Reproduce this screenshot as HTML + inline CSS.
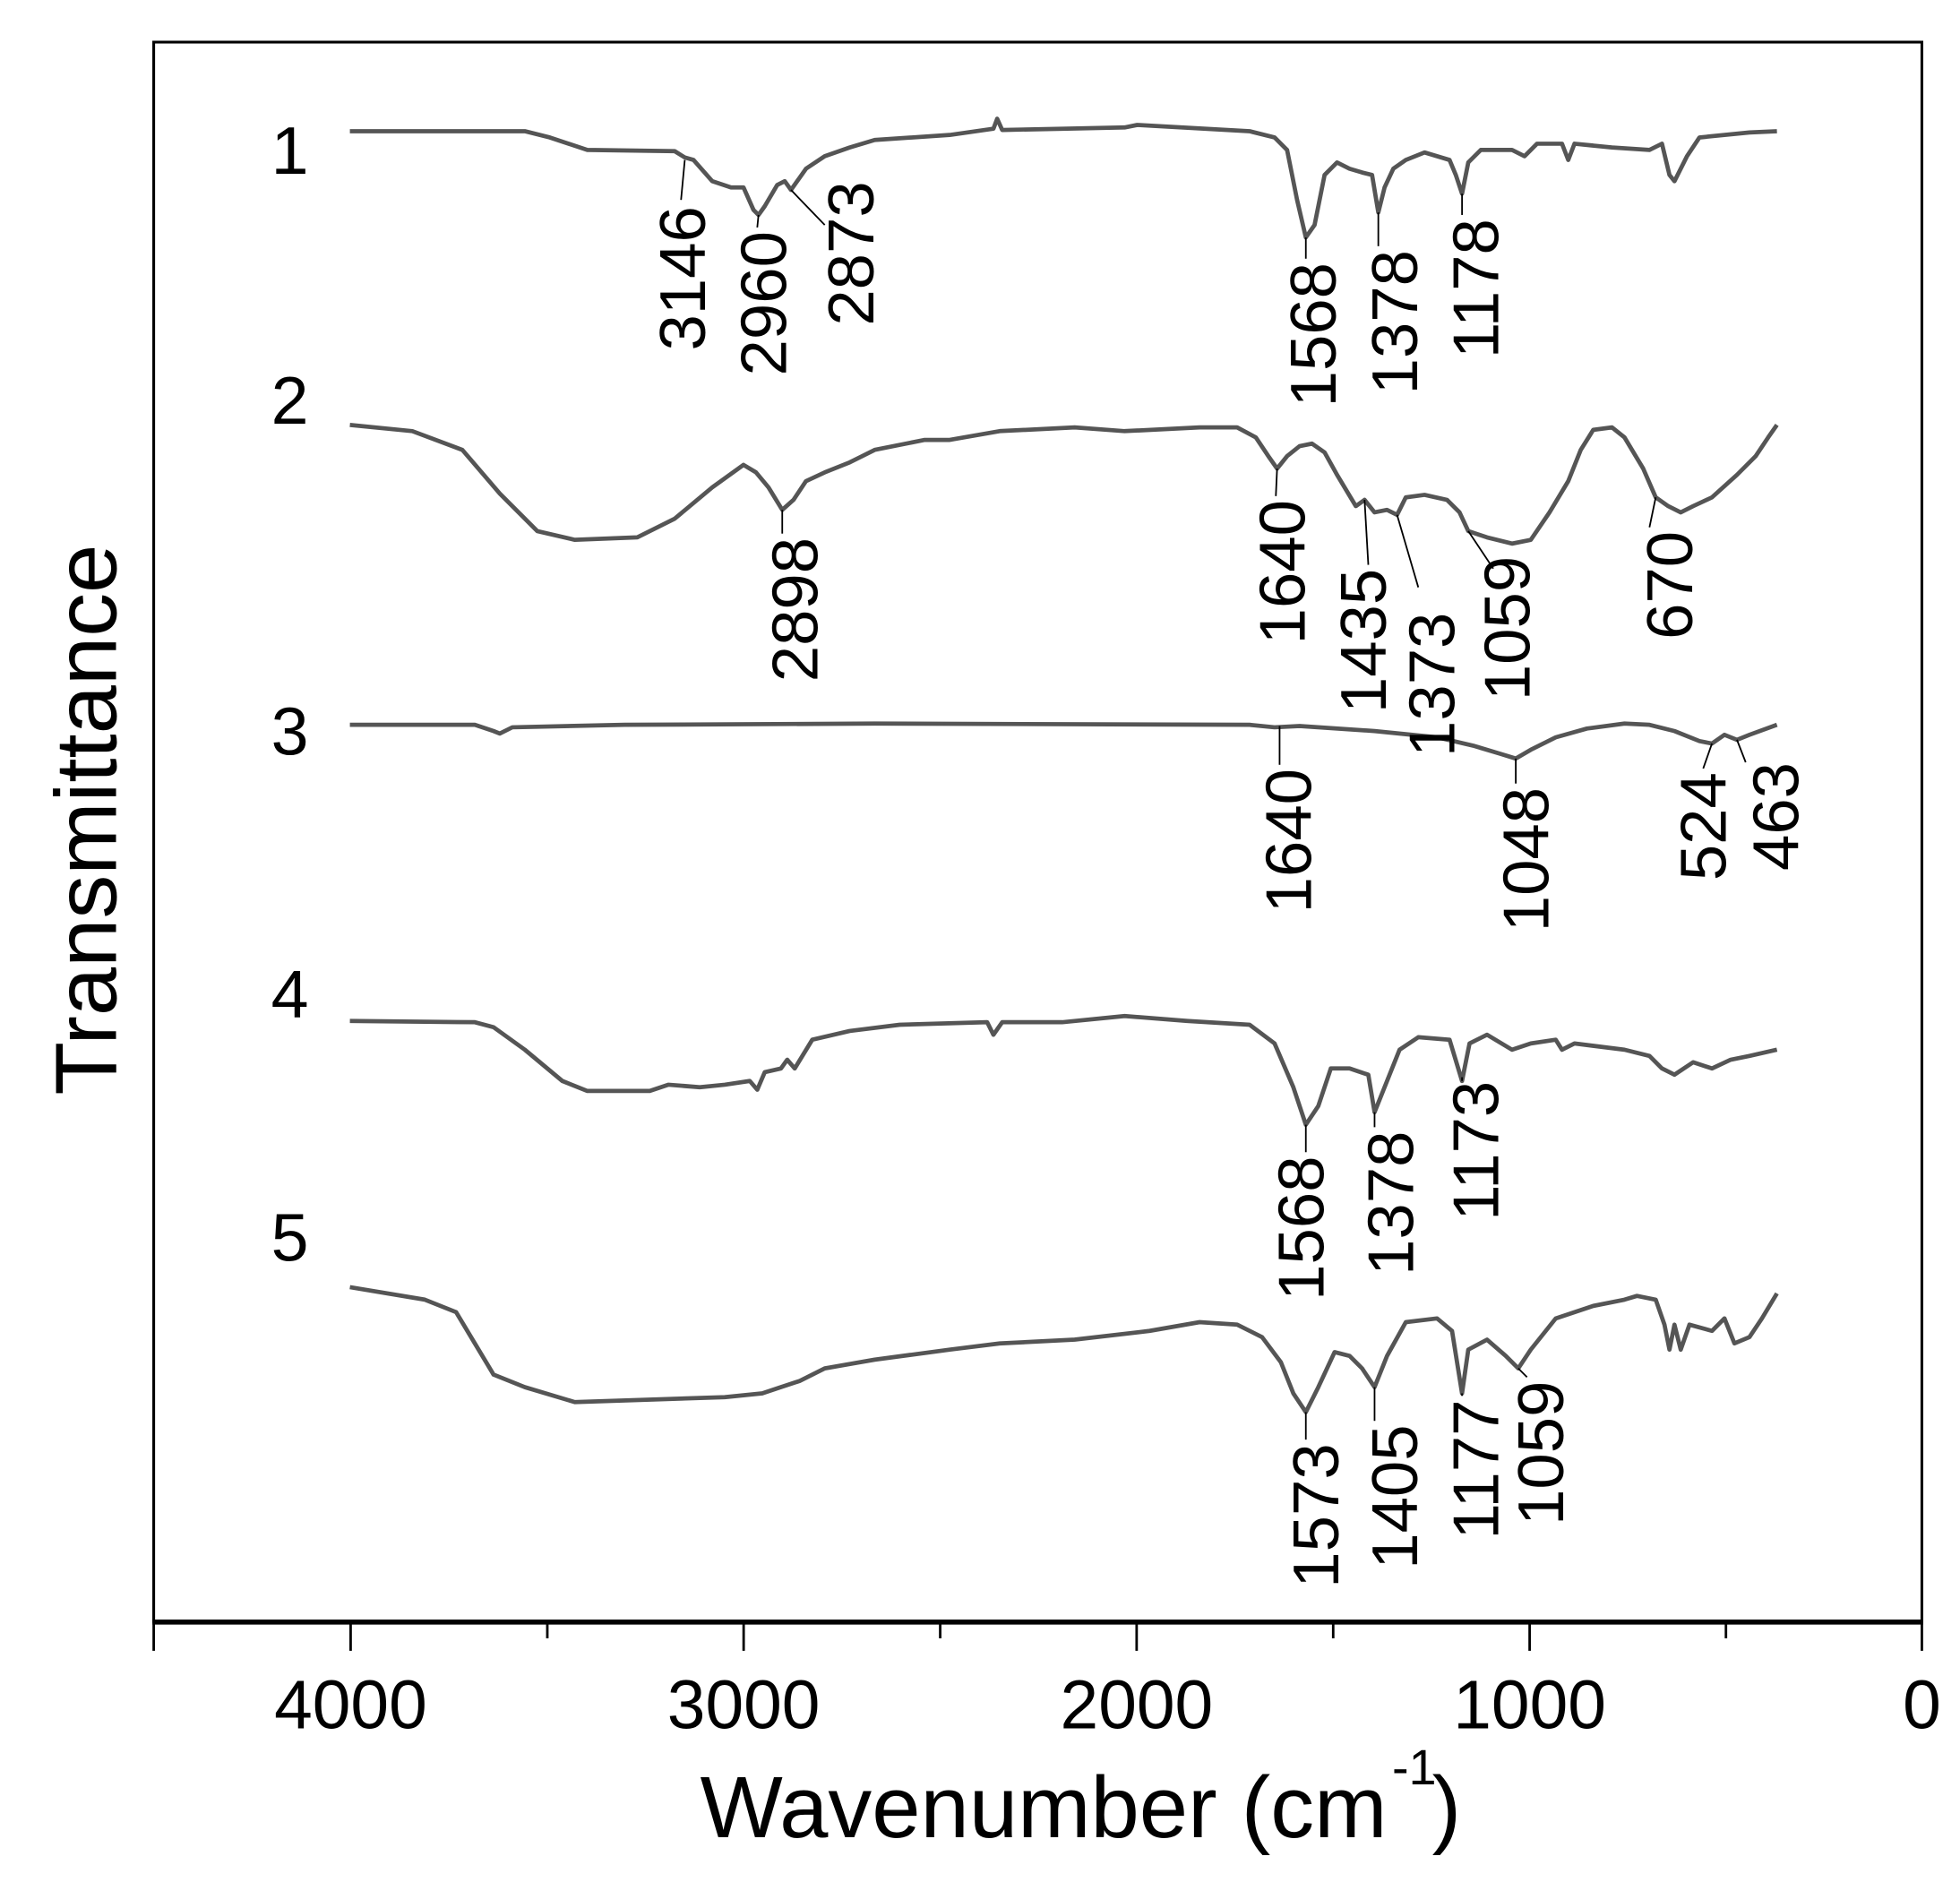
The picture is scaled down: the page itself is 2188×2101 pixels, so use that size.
<!DOCTYPE html>
<html><head><meta charset="utf-8"><style>html,body{margin:0;padding:0;background:#fff}svg{display:block}</style></head>
<body>
<svg width="2188" height="2101" viewBox="0 0 1568.5 1506" preserveAspectRatio="none" xmlns="http://www.w3.org/2000/svg" font-family="'Liberation Sans', sans-serif">
<rect x="0" y="0" width="1568.5" height="1506" fill="#fff"/>
<rect x="123" y="33.7" width="1415" height="1263.8" fill="none" stroke="#000" stroke-width="2.2"/>
<line x1="122" y1="1298" x2="1539" y2="1298" stroke="#000" stroke-width="4"/>
<g stroke="#000" stroke-width="2">
<line x1="123" y1="1298" x2="123" y2="1321"/>
<line x1="280.6" y1="1298" x2="280.6" y2="1321"/>
<line x1="438" y1="1298" x2="438" y2="1311"/>
<line x1="595.1" y1="1298" x2="595.1" y2="1321"/>
<line x1="752.4" y1="1298" x2="752.4" y2="1311"/>
<line x1="909.6" y1="1298" x2="909.6" y2="1321"/>
<line x1="1066.9" y1="1298" x2="1066.9" y2="1311"/>
<line x1="1224.1" y1="1298" x2="1224.1" y2="1321"/>
<line x1="1381.2" y1="1298" x2="1381.2" y2="1311"/>
<line x1="1538" y1="1298" x2="1538" y2="1321"/>
</g>
<g font-size="55" text-anchor="middle" fill="#000">
<text x="280.6" y="1383">4000</text>
<text x="595.1" y="1383">3000</text>
<text x="909.6" y="1383">2000</text>
<text x="1224.1" y="1383">1000</text>
<text x="1538" y="1383">0</text>
</g>
<text x="1110" y="1470" font-size="70" text-anchor="end">Wavenumber (cm</text>
<text x="1114" y="1428" font-size="40">-1</text>
<text x="1146" y="1470" font-size="70">)</text>
<text transform="translate(93,656) rotate(-90)" font-size="70" text-anchor="middle">Transmittance</text>
<g font-size="54" text-anchor="middle">
<text x="232" y="139">1</text><text x="232" y="339">2</text><text x="232" y="604">3</text><text x="232" y="814">4</text><text x="232" y="1009">5</text>
</g>
<g fill="none" stroke="#555" stroke-width="3.4" stroke-linejoin="round">
<polyline points="280,105 420,105 440,110 470,120 540,121 548,126 555,128 570,145 585,150 595,150 603,168 607,172 612,165 622,148 628,145 633,152 645,135 660,125 680,118 700,112 760,108 795,103 798,95 802,104 850,103 900,102 910,100 1000,105 1020,110 1030,120 1038,160 1045,190 1052,180 1060,140 1070,130 1080,135 1090,138 1098,140 1103,170 1108,150 1115,135 1125,128 1140,122 1160,128 1165,140 1170,155 1175,130 1185,120 1210,120 1220,125 1230,115 1250,115 1255,128 1260,115 1290,118 1320,120 1330,115 1336,140 1340,145 1350,125 1360,110 1400,106 1422,105"/>
<polyline points="280,340 330,345 370,360 400,395 430,425 460,432 510,430 540,415 570,390 595,372 605,378 615,390 626,408 635,400 645,385 660,378 680,370 700,360 740,352 760,352 800,345 860,342 900,345 960,342 990,342 1005,350 1015,365 1022,375 1030,365 1040,357 1050,355 1060,362 1070,380 1085,405 1092,400 1100,410 1110,408 1118,412 1125,398 1140,396 1158,400 1168,410 1175,425 1190,430 1210,435 1225,432 1240,410 1255,385 1265,360 1275,344 1290,342 1300,350 1315,375 1325,398 1335,405 1345,410 1355,405 1370,398 1390,380 1405,365 1415,350 1422,340"/>
<polyline points="280,580 380,580 395,585 400,587 410,582 500,580 700,579 1000,580 1020,582 1040,581 1100,585 1150,590 1180,597 1200,603 1213,607 1225,600 1245,590 1270,583 1300,579 1320,580 1340,585 1360,593 1370,595 1380,588 1390,592 1400,588 1422,580"/>
<polyline points="280,817 380,818 395,822 420,840 450,865 470,873 520,873 535,868 560,870 580,868 600,865 606,872 612,858 625,855 630,848 636,855 650,832 680,825 720,820 790,818 795,828 802,818 850,818 900,813 950,817 1000,820 1020,835 1035,870 1045,900 1055,885 1065,855 1080,855 1095,860 1100,890 1108,870 1120,840 1135,830 1160,832 1170,865 1176,835 1190,828 1210,840 1225,835 1245,832 1250,840 1260,835 1300,840 1320,845 1330,855 1340,860 1355,850 1370,855 1385,848 1400,845 1422,840"/>
<polyline points="280,1030 340,1040 365,1050 380,1075 395,1100 420,1110 460,1122 520,1120 580,1118 610,1115 625,1110 640,1105 660,1095 700,1088 760,1080 800,1075 860,1072 920,1065 960,1058 990,1060 1010,1070 1025,1090 1035,1115 1045,1130 1055,1110 1068,1082 1080,1085 1090,1095 1100,1110 1110,1085 1125,1058 1150,1055 1162,1065 1170,1115 1175,1080 1190,1072 1205,1085 1215,1095 1225,1080 1245,1055 1275,1045 1300,1040 1310,1037 1325,1040 1332,1060 1336,1080 1340,1060 1345,1080 1352,1060 1370,1065 1380,1055 1388,1075 1400,1070 1410,1055 1422,1035"/>
</g>
<g stroke="#000" stroke-width="1.3">
<line x1="548" y1="128" x2="545" y2="160"/><line x1="607" y1="172" x2="606" y2="182"/><line x1="633" y1="152" x2="660" y2="180"/>
<line x1="1045" y1="190" x2="1045" y2="207"/><line x1="1103" y1="170" x2="1103" y2="197"/><line x1="1170" y1="155" x2="1170" y2="172"/>
<line x1="626" y1="408" x2="626" y2="427"/><line x1="1022" y1="375" x2="1021" y2="397"/><line x1="1092" y1="400" x2="1095" y2="452"/><line x1="1118" y1="412" x2="1135" y2="470"/><line x1="1175" y1="425" x2="1195" y2="455"/><line x1="1325" y1="398" x2="1320" y2="422"/>
<line x1="1024" y1="581" x2="1024" y2="612"/><line x1="1213" y1="607" x2="1213" y2="627"/><line x1="1370" y1="595" x2="1363" y2="615"/><line x1="1390" y1="592" x2="1397" y2="610"/>
<line x1="1045" y1="900" x2="1045" y2="922"/><line x1="1100" y1="890" x2="1100" y2="902"/><line x1="1170" y1="865" x2="1170" y2="862"/>
<line x1="1045" y1="1130" x2="1045" y2="1152"/><line x1="1100" y1="1110" x2="1100" y2="1137"/><line x1="1170" y1="1115" x2="1170" y2="1117"/><line x1="1215" y1="1095" x2="1222" y2="1102"/>
</g>
<g font-size="52" text-anchor="end" fill="#000">
<text transform="translate(564,165) rotate(-90)">3146</text>
<text transform="translate(629,185) rotate(-90)">2960</text>
<text transform="translate(699,145) rotate(-90)">2873</text>
<text transform="translate(1069,210) rotate(-90)">1568</text>
<text transform="translate(1134,200) rotate(-90)">1378</text>
<text transform="translate(1199,175) rotate(-90)">1178</text>
<text transform="translate(654,430) rotate(-90)">2898</text>
<text transform="translate(1044,400) rotate(-90)">1640</text>
<text transform="translate(1109,455) rotate(-90)">1435</text>
<text transform="translate(1164,490) rotate(-90)">1373</text>
<text transform="translate(1224,445) rotate(-90)">1059</text>
<text transform="translate(1354,425) rotate(-90)">670</text>
<text transform="translate(1049,615) rotate(-90)">1640</text>
<text transform="translate(1239,630) rotate(-90)">1048</text>
<text transform="translate(1381,618) rotate(-90)">524</text>
<text transform="translate(1439,610) rotate(-90)">463</text>
<text transform="translate(1059,925) rotate(-90)">1568</text>
<text transform="translate(1131,905) rotate(-90)">1378</text>
<text transform="translate(1199,865) rotate(-90)">1173</text>
<text transform="translate(1071,1155) rotate(-90)">1573</text>
<text transform="translate(1134,1140) rotate(-90)">1405</text>
<text transform="translate(1199,1120) rotate(-90)">1177</text>
<text transform="translate(1251,1105) rotate(-90)">1059</text>
</g>
</svg>
</body></html>
